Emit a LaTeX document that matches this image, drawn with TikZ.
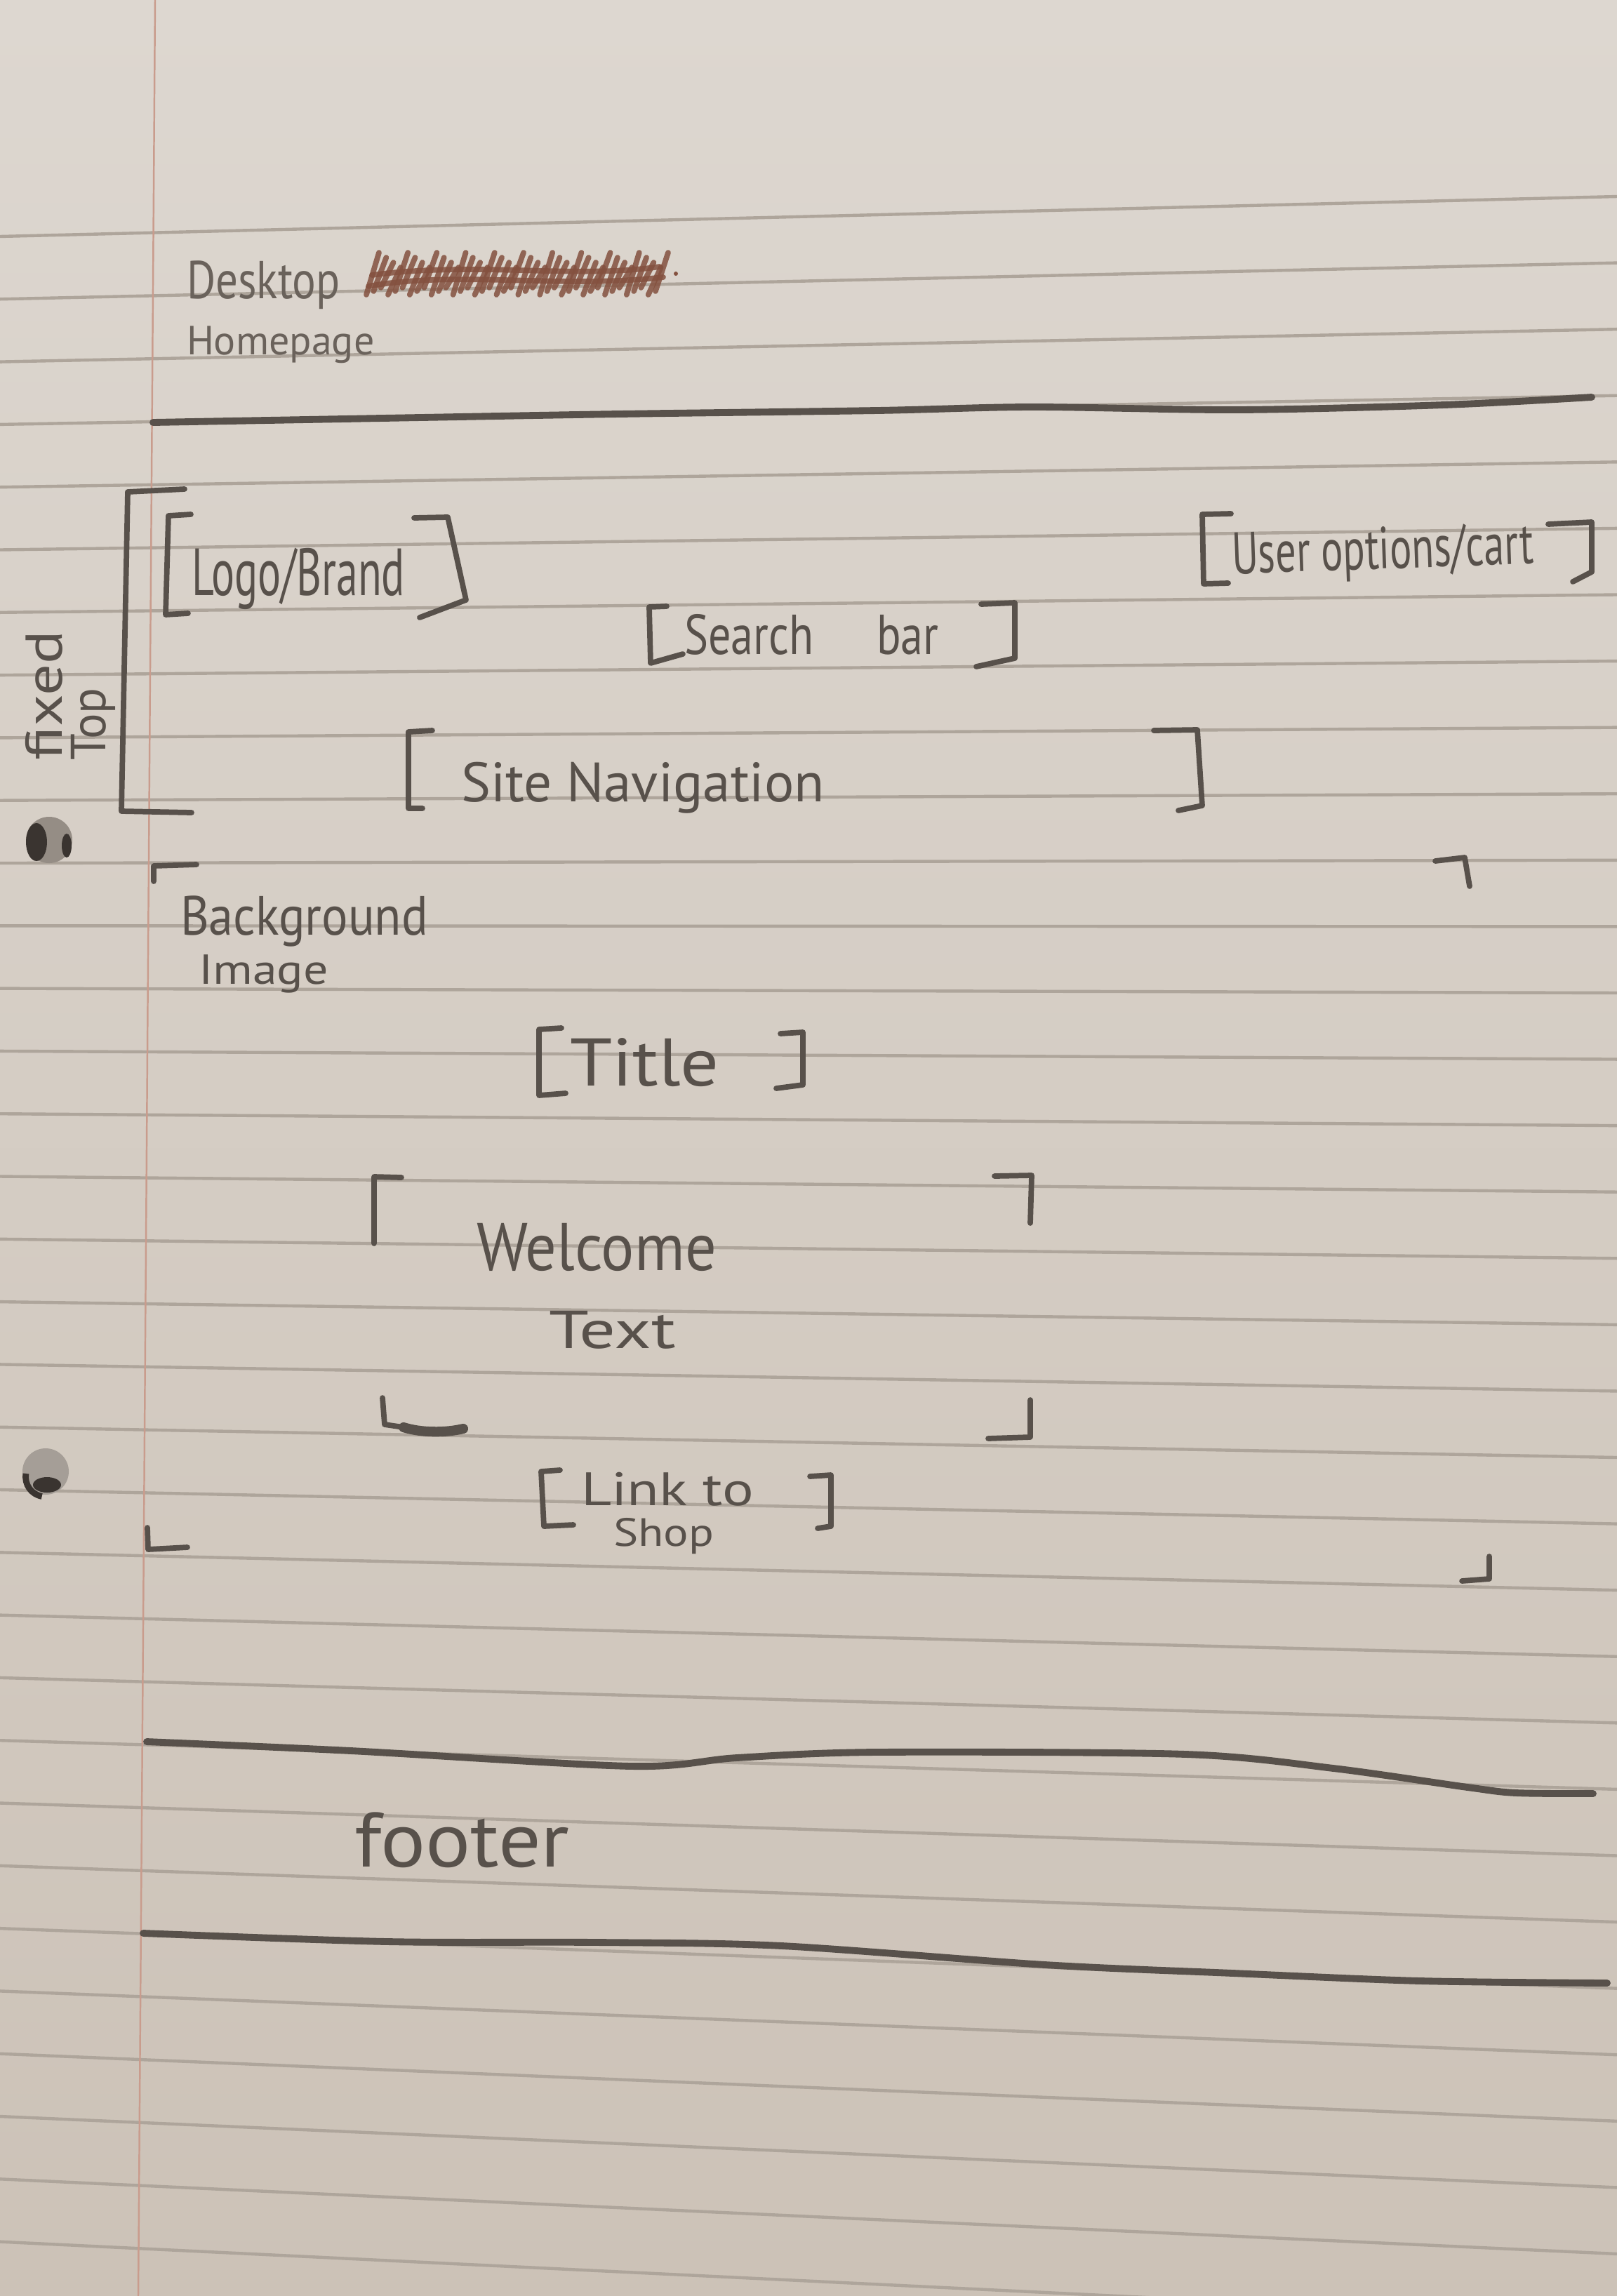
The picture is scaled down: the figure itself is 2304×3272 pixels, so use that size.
\documentclass[tikz,border=0pt]{standalone}
\usepackage{fontspec}
\usepackage{graphicx}
\setmainfont{PT Sans}
\definecolor{paperTop}{HTML}{DDD7D0}
\definecolor{paperMid}{HTML}{D6CEC5}
\definecolor{paperBot}{HTML}{CCC2B7}
\definecolor{ruleC}{HTML}{AEA59B}
\definecolor{marginC}{HTML}{C99C8D}
\definecolor{ink}{HTML}{58514B}
\definecolor{inkSoft}{HTML}{6A625B}
\definecolor{scrib}{HTML}{84513F}
\definecolor{holeDark}{HTML}{3A3430}
\definecolor{holeMid}{HTML}{958D85}
% handwriting helper: size, horizontal squeeze, text
\newcommand\hw[3]{\fontsize{#1}{#1}\selectfont\scalebox{#2}[1]{#3}}
\begin{document}
\begin{tikzpicture}[x=0.01cm,y=-0.01cm,
  rule/.style={draw=ruleC, line width=1.25pt},
  margin/.style={draw=marginC, line width=0.7pt},
  pen/.style={draw=ink, line width=2.2pt, line cap=round, line join=round},
  heavy/.style={draw=ink, line width=2.8pt, line cap=round, line join=round},
  hand/.style={text=ink, inner sep=0pt, outer sep=0pt},
  soft/.style={text=inkSoft, inner sep=0pt, outer sep=0pt},
  scribble/.style={draw=scrib, line width=2.2pt, line cap=round, opacity=0.85}]
\useasboundingbox (0,0) rectangle (2304,3272);

% paper
\shade[top color=paperTop, middle color=paperMid, bottom color=paperBot] (0,0) rectangle (2304,3272);

% ruled lines, slightly fanned
\foreach \i in {0,...,32}{
  \pgfmathsetmacro\yl{337+89.3*\i}
  \pgfmathsetmacro\yr{\yl-57+5.28*\i}
  \draw[rule] (0,\yl) -- (2304,\yr);
}
% margin line
\draw[margin] (221,0) -- (197,3272);

% punched holes
\fill[holeMid] (70,1197) circle[radius=33];
\fill[holeDark] (52,1200) ellipse[x radius=15, y radius=27];
\fill[holeDark] (95,1205) ellipse[x radius=7, y radius=17];
\fill[holeMid!85!white] (65,2097) circle[radius=33];
\fill[holeDark] (67,2116) ellipse[x radius=20, y radius=11];
\draw[holeDark, line width=2.5pt] (37,2100) arc[start angle=190, end angle=100, radius=28];

% header
\node[soft, anchor=base west] (desk) at (266,425) {\hw{21.6pt}{0.83}{Desktop}};
\foreach \k in {0,...,40}
  \draw[scribble] ({522+10.3*\k},{420-mod(\k,3)*5}) -- ({540+10.3*\k},{360+mod(\k,4)*7});
\draw[scribble] (525,408) .. controls (650,385) and (800,412) .. (945,395);
\draw[scribble] (530,392) .. controls (680,372) and (820,398) .. (940,380);
\fill[scrib] (963,390) circle[radius=3];
\node[soft, anchor=base west] (home) at (266,505) {\hw{16.5pt}{1.0}{Homepage}};

\draw[heavy] plot[smooth] coordinates {(218,602) (600,595) (882,590) (1250,585) (1470,580) (1764,584) (2058,577) (2268,566)};

% fixed top block
\draw[pen] (263,697) -- (182,701) -- (173,1156) -- (273,1158);
\node[hand, anchor=base west, rotate=90] (fixed) at (88,1083) {\hw{21pt}{1.2}{fixed}};
\node[hand, anchor=base west, rotate=90] (top) at (150,1083) {\hw{20pt}{0.97}{Top}};

% logo
\draw[pen] (272,733) -- (240,735) -- (236,876) -- (268,874);
\node[hand, anchor=base west] (logo) at (273,848) {\hw{27pt}{0.65}{Logo/Brand}};
\draw[pen] (590,738) -- (638,737) -- (664,855) -- (598,880);

% user options
\draw[pen] (1754,732) -- (1713,733) -- (1715,832) -- (1750,831);
\node[hand, anchor=base west, rotate=2] (user) at (1756,818) {\hw{24pt}{0.69}{User options/cart}};
\draw[pen] (2206,747) -- (2268,744) -- (2268,815) -- (2241,829);

% search bar
\draw[pen] (950,864) -- (925,865) -- (927,945) -- (973,932);
\node[hand, anchor=base west] (search) at (975,932) {\hw{22.8pt}{0.8}{Search\hspace{1.4em}bar}};
\draw[pen] (1398,861) -- (1446,859) -- (1446,938) -- (1391,950);

% site navigation
\draw[pen] (616,1041) -- (582,1043) -- (582,1152) -- (602,1152);
\node[hand, anchor=base west] (nav) at (657,1142) {\hw{22.5pt}{1.0}{Site Navigation}};
\draw[pen] (1644,1041) -- (1706,1040) -- (1713,1148) -- (1679,1155);

% background image block corners
\draw[pen] (280,1232) -- (219,1234) -- (219,1256);
\draw[pen] (2045,1227) -- (2087,1222) -- (2094,1263);
\draw[pen] (210,2177) -- (211,2208) -- (267,2205);
\draw[pen] (2122,2218) -- (2122,2250) -- (2083,2253);
\node[hand, anchor=base west] (bg) at (257,1332) {\hw{22.4pt}{0.89}{Background}};
\node[hand, anchor=base west] (img) at (283,1402) {\hw{17pt}{1.17}{Image}};

% title
\draw[pen] (800,1465) -- (768,1467) -- (768,1561) -- (806,1558);
\node[hand, anchor=base west] (title) at (812,1547) {\hw{27.3pt}{1.13}{Title}};
\draw[pen] (1112,1473) -- (1144,1471) -- (1144,1546) -- (1106,1551);

% welcome text block
\draw[pen] (572,1678) -- (533,1677) -- (533,1772);
\draw[pen] (1417,1676) -- (1470,1675) -- (1468,1743);
\draw[pen] (545,1992) -- (548,2030) -- (575,2034);
\draw[pen, line width=4pt] (575,2034) .. controls (600,2042) and (635,2042) .. (660,2036);
\draw[pen] (1468,1995) -- (1468,2048) -- (1408,2050);
\node[hand, anchor=base west] (welcome) at (679,1810) {\hw{27.3pt}{0.92}{Welcome}};
\node[hand, anchor=base west] (text) at (782,1921) {\hw{21.6pt}{1.35}{Text}};

% link to shop
\draw[pen] (798,2095) -- (771,2097) -- (775,2175) -- (817,2173);
\node[hand, anchor=base west] (link) at (828,2145) {\hw{19pt}{1.25}{Link to}};
\node[hand, anchor=base west] (shop) at (874,2203) {\hw{16pt}{1.18}{Shop}};
\draw[pen] (1154,2104) -- (1184,2102) -- (1184,2175) -- (1165,2178);

% footer
\draw[heavy] plot[smooth] coordinates {(209,2482) (500,2495) (900,2517) (1050,2505) (1248,2497) (1690,2500) (1900,2520) (2091,2547) (2160,2555) (2270,2556)};
\node[hand, anchor=base west] (footer) at (505,2660) {\hw{31.3pt}{1.09}{footer}};
\draw[heavy] plot[smooth] coordinates {(204,2755) (552,2767) (850,2768) (1114,2773) (1489,2800) (1757,2812) (2024,2823) (2290,2826)};
\end{tikzpicture}
\end{document}
